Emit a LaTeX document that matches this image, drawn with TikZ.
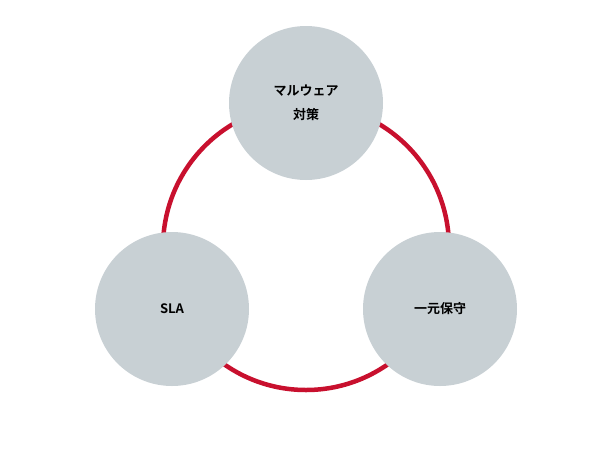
\documentclass[tikz,border=0pt]{standalone}
\usepackage{fontspec}
\newfontfamily\jp{Noto Sans CJK JP}[BoldFont={* Bold}]
\definecolor{cgray}{HTML}{C8D0D4}
\definecolor{cred}{HTML}{C8102E}
\begin{document}
\begin{tikzpicture}[x=1pt,y=-1pt,
  bub/.style={circle,fill=cgray,minimum size=154pt,inner sep=0pt,align=center,font=\jp\bfseries\fontsize{13}{24}\selectfont}]
\useasboundingbox (0,0) rectangle (600,456);
\coordinate (c) at (306,247);
\draw[cred,line width=4.5pt] (c) circle (143);
\node[bub] (top) at (306,103) {マルウェア\\対策};
\node[bub] (sla) at (172,309) {SLA};
\node[bub] (ichi) at (440,309) {一元保守};
\end{tikzpicture}
\end{document}
